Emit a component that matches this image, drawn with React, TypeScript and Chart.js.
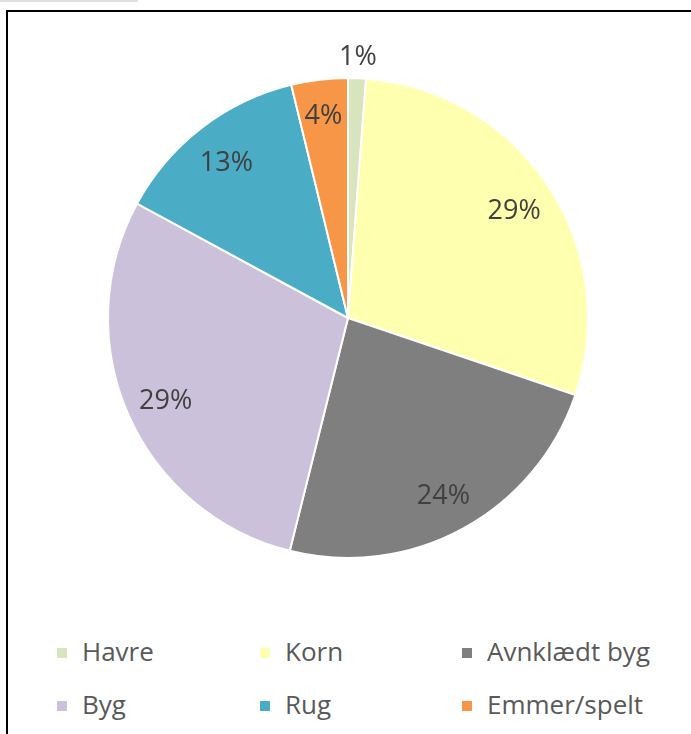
import React, { useEffect, useRef } from "react";
import { Chart, registerables } from "chart.js";

Chart.register(...registerables);

const categories = ["Havre", "Korn", "Avnklædt byg", "Byg", "Rug", "Emmer/spelt"];
const shares = [1.2, 29.0, 23.7, 29.0, 13.3, 3.8];
const colors = ["#d7e4bd", "#ffffb0", "#7f7f7f", "#ccc1da", "#4bacc6", "#f79646"];

const labelPlugin = {
  id: "sliceLabels",
  afterDatasetsDraw(chart: any) {
    const ctx = chart.ctx;
    const meta = chart.getDatasetMeta(0);
    const data = chart.data.datasets[0].data as number[];
    const total = data.reduce((a, b) => a + b, 0);
    ctx.save();
    ctx.font = '27px "Open Sans"';
    ctx.fillStyle = "#404040";
    ctx.textAlign = "center";
    ctx.textBaseline = "middle";
    meta.data.forEach((arc: any, i: number) => {
      const p = arc.getProps(["x", "y", "startAngle", "endAngle", "outerRadius"], true);
      const pct = (data[i] / total) * 100;
      const mid = (p.startAngle + p.endAngle) / 2;
      const f = pct < 2 ? 1.1 : pct < 5 ? 0.86 : 0.83;
      const r = p.outerRadius * f;
      ctx.fillText(Math.round(pct) + "%", p.x + Math.cos(mid) * r, p.y + Math.sin(mid) * r + 3);
    });
    ctx.restore();
  },
};

export default function App() {
  const ref = useRef<HTMLCanvasElement>(null);
  useEffect(() => {
    if (!ref.current) return;
    const chart = new Chart(ref.current, {
      type: "pie",
      data: {
        labels: categories,
        datasets: [
          {
            data: shares,
            backgroundColor: colors,
            borderColor: "#ffffff",
            borderWidth: 2,
          },
        ],
      },
      options: {
        animation: false,
        responsive: false,
        radius: 240,
        events: [],
        plugins: {
          legend: { display: false },
          tooltip: { enabled: false },
        },
      } as any,
      plugins: [labelPlugin],
    });
    return () => chart.destroy();
  }, []);

  const colLeft = [82, 285, 487];
  const rowTop = [651, 704];

  return (
    <div style={{ position: "fixed", left: 0, top: 0, width: 691, height: 734, overflow: "hidden", background: "#fff" }}>
      <div style={{ position: "absolute", left: 0, top: 0, width: 138, height: 2, background: "#e0e0e0" }} />
      <div
        style={{
          position: "absolute",
          left: 6,
          top: 10,
          width: 800,
          height: 800,
          border: "2px solid #000",
          boxSizing: "border-box",
        }}
      />
      <canvas ref={ref} width={600} height={600} style={{ position: "absolute", left: 48, top: 18, width: 600, height: 600 }} />
      {categories.map((c, i) => {
        const col = i % 3;
        const row = Math.floor(i / 3);
        return (
          <div
            key={c}
            style={{
              position: "absolute",
              left: colLeft[col] - 25,
              top: rowTop[row] - 18,
              height: 36,
              display: "flex",
              alignItems: "center",
              fontFamily: '"Open Sans"',
              fontSize: 26,
              color: "#595959",
              whiteSpace: "nowrap",
            }}
          >
            <span style={{ display: "inline-block", width: 10, height: 10, background: colors[i], marginRight: 15, marginTop: 3 }} />
            <span>{c}</span>
          </div>
        );
      })}
    </div>
  );
}
